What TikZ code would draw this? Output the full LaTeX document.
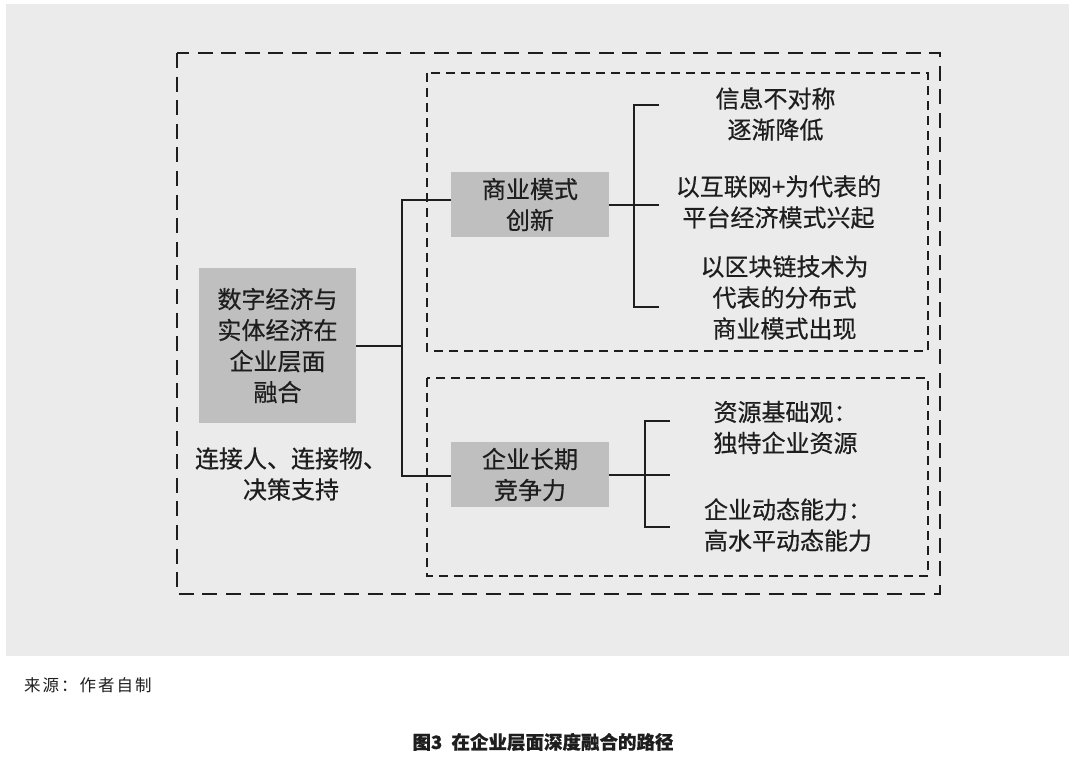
\documentclass[tikz,border=0pt]{standalone}
\usepackage{fontspec}
\newfontfamily\cjk[FakeBold=0.5]{Noto Sans CJK SC}
\newfontfamily\cjknote[LetterSpace=12]{Noto Sans CJK SC}
\definecolor{panel}{RGB}{235,235,235}
\definecolor{boxgray}{RGB}{191,191,191}
\definecolor{ink}{RGB}{30,30,30}
\begin{document}
\begin{tikzpicture}[x=1pt, y=-1pt, every node/.style={font=\cjk\fontsize{24}{31}\selectfont, text=ink, align=center, inner sep=0pt},
  g/.style={fill=boxgray, minimum width=157.5pt},
  link/.style={draw=ink, line width=2pt},
  outerdash/.style={draw=ink, line width=2.6pt, dash pattern=on 15pt off 8.6pt},
  innerdash/.style={draw=ink, line width=1.8pt, dash pattern=on 9pt off 6pt}]
\useasboundingbox (0,0) rectangle (1080,772);
\fill[white] (0,0) rectangle (1080,772);
\fill[panel] (6,4) rectangle (1069,656);
% frames
\draw[outerdash] (177,53) rectangle (940,594);
\draw[innerdash] (427,73) rectangle (928,351);
\draw[innerdash] (427,378) rectangle (928,576);
% boxes
\node[g, minimum height=155pt] (core) at (277.5,345.5) {数字经济与\\实体经济在\\企业层面\\融合};
\node (way) at (291,474) {连接人、连接物、\\决策支持};
\node[g, minimum height=65.5pt] (bm) at (530,204.5) {商业模式\\创新};
\node[g, minimum height=65.5pt] (cp) at (530,474.5) {企业长期\\竞争力};
% branches
\coordinate (jt) at (402,200);
\coordinate (jb) at (402,476);
\draw[link] (core.east) -- (core.east -| jt);
\draw[link] (bm.west |- jt) -- (jt) -- (jb) -- (cp.west |- jb);
\coordinate (k1) at (659,105);
\coordinate (k3) at (659,307);
\coordinate (b1) at (634,204);
\draw[link] (k1) -| (b1) |- (k3);
\draw[link] (bm.east) -- (bm.east -| k1);
\coordinate (k4) at (670,421);
\coordinate (k5) at (670,527);
\coordinate (b2) at (645,476);
\draw[link] (k4) -| (b2) |- (k5);
\draw[link] (cp.east) -- (cp.east -| k4);
% outcomes
\node (t1) at (775.5,114) {信息不对称\\逐渐降低};
\node (t2) at (778.5,202) {以互联网+为代表的\\平台经济模式兴起};
\node (t3) at (784.5,297.5) {以区块链技术为\\代表的分布式\\商业模式出现};
\node (t4) at (785.5,427.5) {资源基础观：\\独特企业资源};
\node (t5) at (788,525) {企业动态能力：\\高水平动态能力};
% source and caption
\node[font=\cjknote\fontsize{16.5}{20}\selectfont, anchor=west] (src) at (24,685) {来源：作者自制};
\node[font=\cjk\bfseries\fontsize{18.5}{22}\selectfont] (cap) at (543,742) {图3\hspace{0.5em}在企业层面深度融合的路径};
\end{tikzpicture}
\end{document}
